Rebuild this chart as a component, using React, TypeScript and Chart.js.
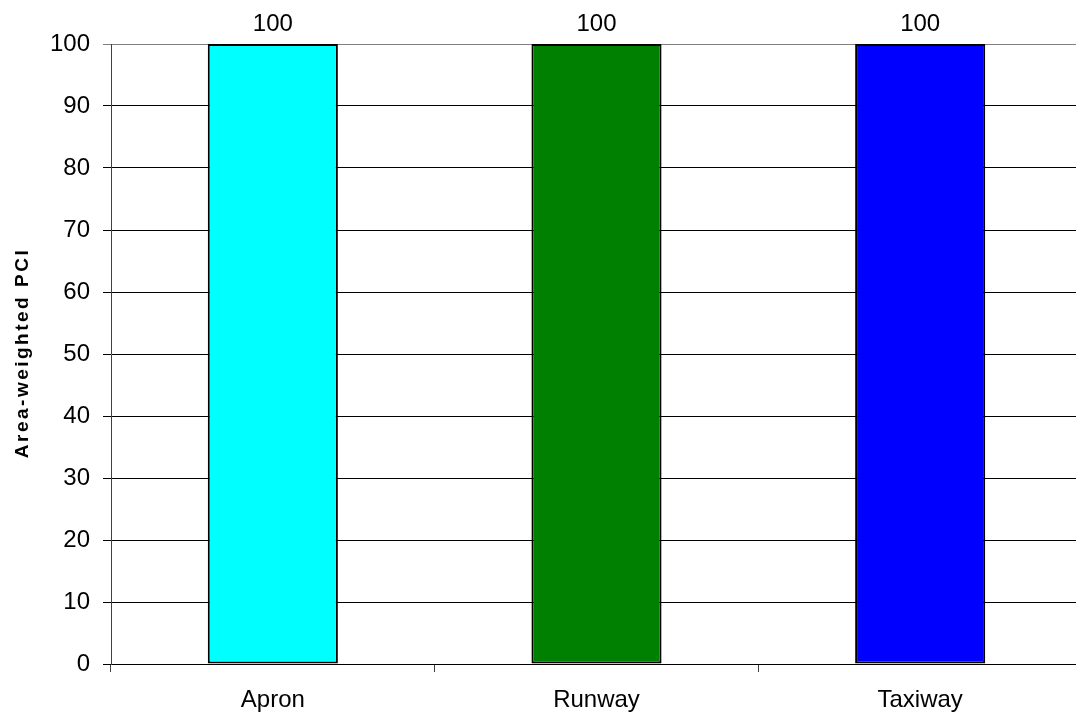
import React, { useEffect, useRef } from "react";
import { Chart, registerables } from "chart.js";

Chart.register(...registerables);

const categories = ["Apron", "Runway", "Taxiway"];
const pciValues = [100, 100, 100];
const barColors = ["#00FFFF", "#008000", "#0000FF"];
const yTitle = "Area-weighted PCI";

const FONT = "'Liberation Sans', Arial, sans-serif";

const valueLabelPlugin = {
  id: "valueLabels",
  afterDatasetsDraw(chart: any) {
    const ctx = chart.ctx;
    ctx.save();
    ctx.font = `24px ${FONT}`;
    ctx.fillStyle = "#000";
    ctx.textAlign = "center";
    ctx.textBaseline = "alphabetic";
    chart.data.datasets.forEach((ds: any, di: number) => {
      const meta = chart.getDatasetMeta(di);
      meta.data.forEach((bar: any, i: number) => {
        ctx.fillText(String(ds.data[i]), bar.x, bar.y - 13);
      });
    });
    ctx.restore();
  },
};

const yTitlePlugin = {
  id: "yTitle",
  afterDraw(chart: any) {
    const ctx = chart.ctx;
    const area = chart.chartArea;
    ctx.save();
    ctx.translate(28, (area.top + area.bottom) / 2);
    ctx.rotate(-Math.PI / 2);
    ctx.font = `bold 19px ${FONT}`;
    (ctx as any).letterSpacing = "2.5px";
    ctx.fillStyle = "#000";
    ctx.textAlign = "center";
    ctx.textBaseline = "alphabetic";
    ctx.fillText(yTitle, 1, 0);
    ctx.restore();
  },
};

export default function App() {
  const ref = useRef<HTMLCanvasElement>(null);
  useEffect(() => {
    document.documentElement.style.overflow = "hidden";
    document.body.style.overflow = "hidden";
    const chart = new Chart(ref.current!, {
      type: "bar",
      data: {
        labels: categories,
        datasets: [
          {
            data: pciValues,
            backgroundColor: barColors,
            borderColor: "#000",
            borderWidth: 2,
            borderSkipped: false,
            barPercentage: 0.402,
            categoryPercentage: 1,
          },
        ],
      },
      options: {
        responsive: false,
        animation: false,
        layout: { padding: { top: 44, right: 8, bottom: 0, left: 0 } },
        plugins: { legend: { display: false }, tooltip: { enabled: false } },
        scales: {
          x: {
            afterFit: (axis: any) => {
              axis.height = 53;
            },
            grid: {
              offset: true,
              drawOnChartArea: false,
              drawTicks: true,
              tickLength: 8,
              color: "#404040",
            },
            border: { display: true, color: "#000", width: 1 },
            ticks: {
              color: "#000",
              font: { family: FONT, size: 24 },
              padding: 14,
              maxRotation: 0,
            },
          },
          y: {
            min: 0,
            max: 100,
            afterFit: (axis: any) => {
              axis.width = 111;
            },
            ticks: {
              stepSize: 10,
              color: "#000",
              font: { family: FONT, size: 24 },
              padding: 13,
            },
            grid: {
              tickLength: 8,
              color: (c: any) => (c.tick && c.tick.value === 100 ? "#808080" : "#000"),
              lineWidth: 1,
            },
            border: { display: true, color: "#404040", width: 1 },
          },
        },
      },
      plugins: [valueLabelPlugin, yTitlePlugin],
    });
    return () => chart.destroy();
  }, []);
  return (
    <div style={{ position: "fixed", left: 0, top: 0, width: 1090, height: 717, background: "#fff" }}>
      <canvas ref={ref} width={1090} height={717} style={{ display: "block" }} />
    </div>
  );
}
